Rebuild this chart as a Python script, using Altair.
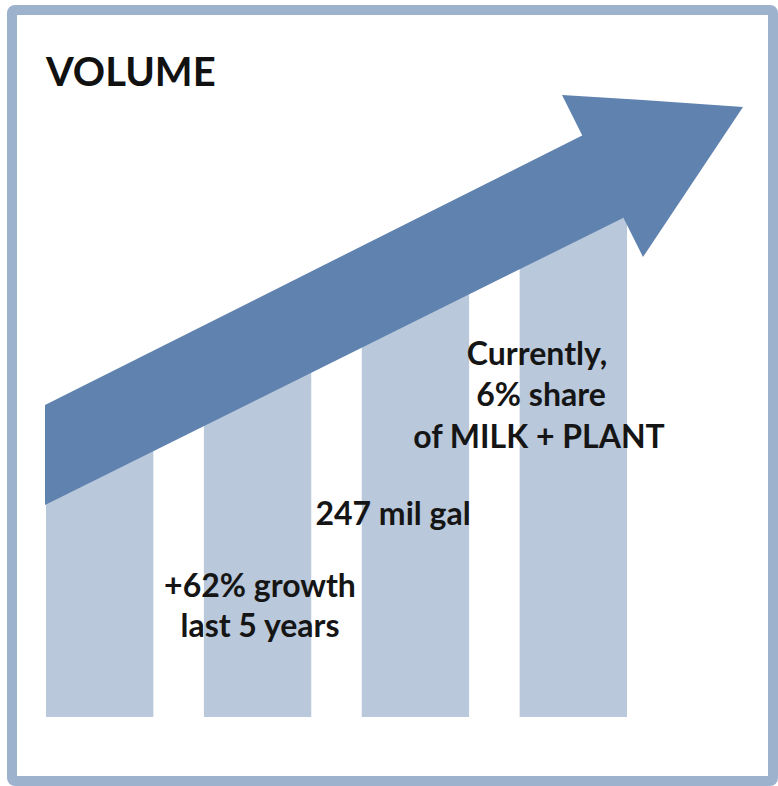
import altair as alt
import pandas as pd

# ---- data -------------------------------------------------------------
years = ["Year 1", "Year 2", "Year 3", "Year 4"]
volume = [287, 367, 445, 522]          # bar heights (chart units above baseline)

# arrow outline in chart units (x across, y up from bar baseline)
shaft_x = [45, 623]
shaft_top = [312, 602]
shaft_bottom = [212, 499]
head_x = [562, 643, 743]
head_top = [622, 617, 610]
head_bottom = [622, 460, 610]

notes = ["Currently,", "6% share", "of MILK + PLANT", "247 mil gal",
         "+62% growth", "last 5 years"]
note_x = [537, 541, 539, 393, 260, 260]
note_y = [352, 311, 269, 192, 120, 80]

title_text = "VOLUME"

# ---- styles -----------------------------------------------------------
BAR = "#b9c8db"
ARROW = "#5f82ae"
FRAME = "#9db2cc"
FONT = "Lato"

W, H = 778, 786
yscale = alt.Scale(domain=[0, 717], range=[717, 0], nice=False, zero=False)
xcont = alt.Scale(domain=[0, W], range=[0, W], nice=False, zero=False)

bars_df = pd.DataFrame({"year": years, "volume": volume})
shaft_df = pd.DataFrame({"x": shaft_x, "top": shaft_top, "bottom": shaft_bottom})
head_df = pd.DataFrame({"x": head_x, "top": head_top, "bottom": head_bottom})
notes_df = pd.DataFrame({"label": notes, "x": note_x, "y": note_y})
title_df = pd.DataFrame({"label": [title_text]})
frame_df = pd.DataFrame({"k": [0]})

frame = alt.Chart(frame_df).mark_rect(
    fillOpacity=0, stroke=FRAME, strokeWidth=10, cornerRadius=3
).encode(x=alt.value(12), x2=alt.value(773), y=alt.value(10), y2=alt.value(781))

bars = alt.Chart(bars_df).mark_bar(color=BAR).encode(
    x=alt.X("year:N", sort=years, axis=None,
            scale=alt.Scale(range=[46, 627], paddingInner=0.32, paddingOuter=0)),
    y=alt.Y("volume:Q", axis=None, scale=yscale),
)

shaft = alt.Chart(shaft_df).mark_area(color=ARROW, orient="vertical").encode(
    x=alt.X("x:Q", axis=None, scale=xcont),
    y=alt.Y("top:Q", axis=None, scale=yscale),
    y2="bottom:Q",
)

head = alt.Chart(head_df).mark_area(color=ARROW, orient="vertical").encode(
    x=alt.X("x:Q", axis=None, scale=xcont),
    y=alt.Y("top:Q", axis=None, scale=yscale),
    y2="bottom:Q",
)

texts = alt.Chart(notes_df).mark_text(
    font=FONT, fontSize=32, fontWeight="bold", color="#151515",
    align="center", baseline="alphabetic"
).encode(
    x=alt.X("x:Q", axis=None, scale=xcont),
    y=alt.Y("y:Q", axis=None, scale=yscale),
    text="label:N",
)

title = alt.Chart(title_df).mark_text(
    font=FONT, fontSize=40, fontWeight="bold", color="#111111",
    align="left", baseline="alphabetic"
).encode(x=alt.value(46), y=alt.value(86), text="label:N")

chart = alt.layer(frame, bars, shaft, head, texts, title).resolve_scale(
    x="independent"
).properties(
    width=W, height=H, padding=0, autosize=alt.AutoSizeParams(type="none"),
    background="white"
).configure_view(stroke=None)

chart.save("out.html", embed_options={"renderer": "svg", "actions": False})
